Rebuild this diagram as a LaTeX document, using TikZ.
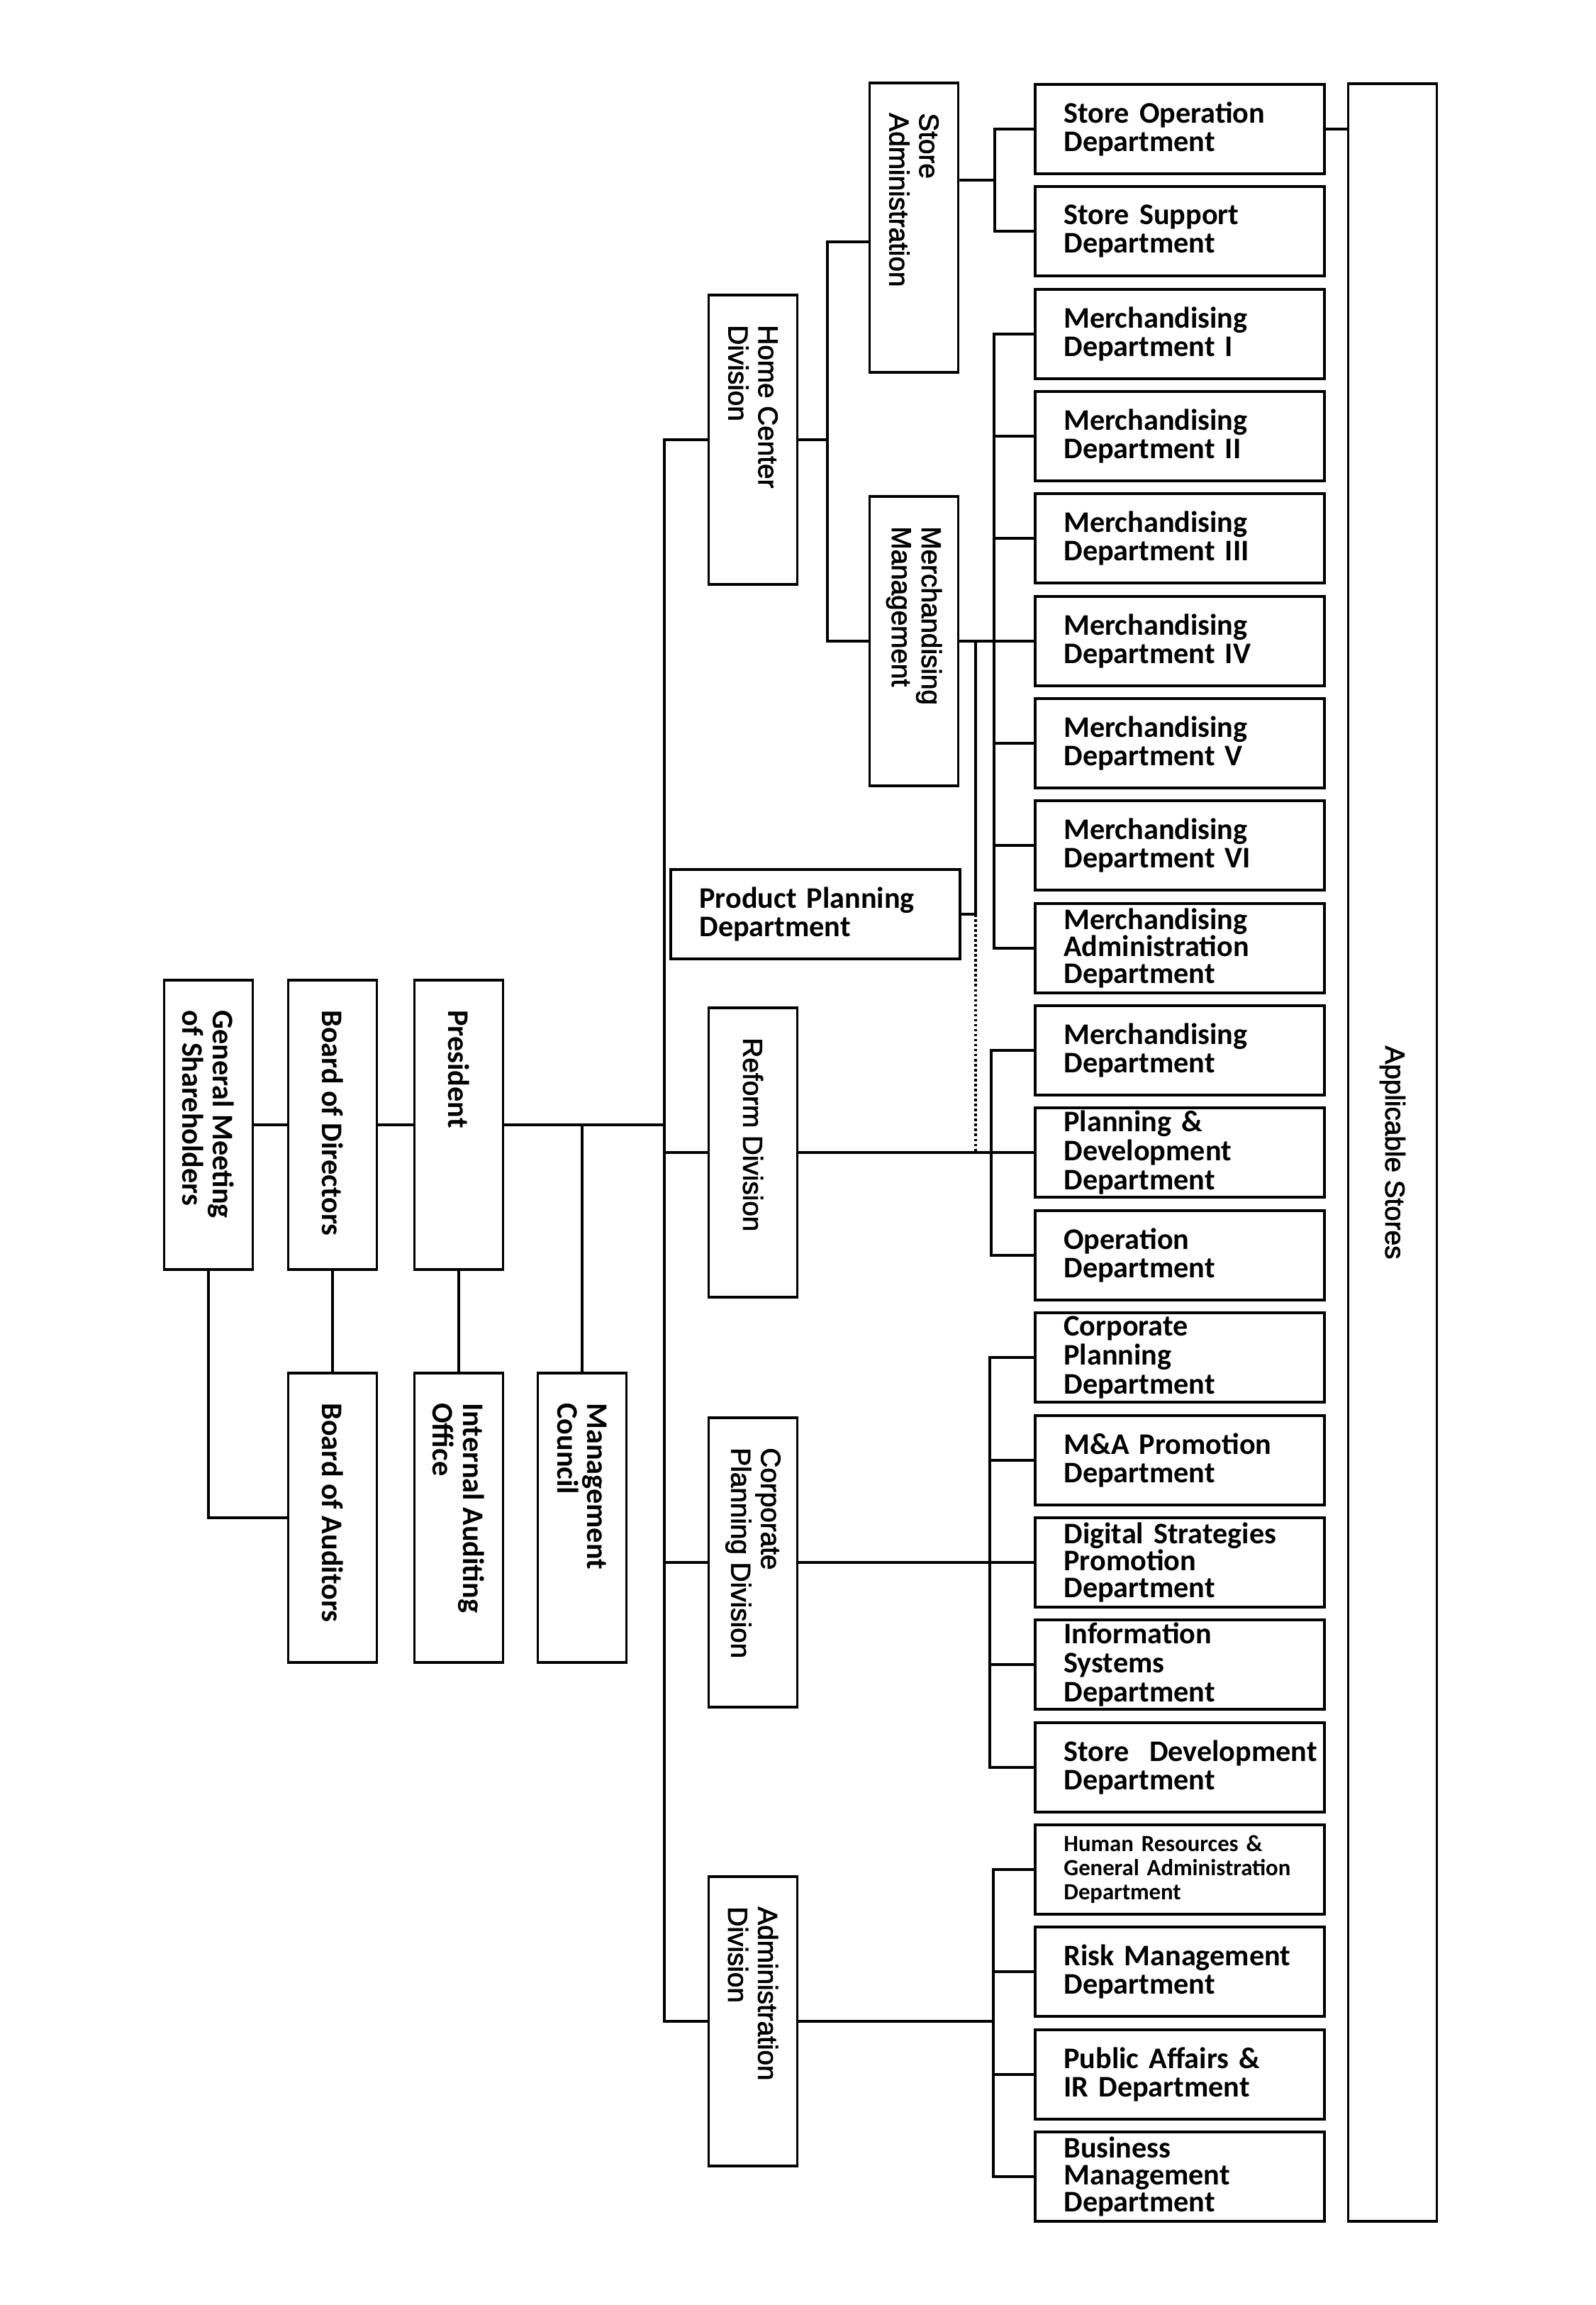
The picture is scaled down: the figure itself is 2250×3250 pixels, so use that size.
\documentclass[tikz,border=0pt]{standalone}
\usepackage{graphicx}
\usepackage{fontspec}
\usepackage{xcolor}
\newfontfamily\calfont{Carlito}
\newfontfamily\arfont{Liberation Sans}[FakeBold=2]
\newcommand{\vtxt}[1]{\rotatebox{-90}{\parbox{3.23cm}{\raggedright #1}}}

\begin{document}
\begin{tikzpicture}[x=0.01cm,y=-0.01cm,line width=1.1pt]
		\tikzset{box/.style = {draw,rectangle,inner sep=0pt}}
		\tikzset{dept/.style = {box,minimum width=4.07cm,minimum height=1.26cm,
			text width=3.27cm,inner xsep=0.4cm,align=left,
			font=\calfont\bfseries\fontsize{12pt}{11.6pt}\selectfont}}
		\tikzset{tight/.style = {font=\calfont\bfseries\fontsize{12pt}{10.8pt}\selectfont}}
		\tikzset{small/.style = {font=\calfont\bfseries\fontsize{9.3pt}{9.6pt}\selectfont}}
		\tikzset{vbox/.style = {box,minimum width=1.25cm,minimum height=4.07cm,
			font=\calfont\bfseries\fontsize{12pt}{12.2pt}\selectfont}}
		\tikzset{divbox/.style = {vbox,font=\arfont\fontsize{11pt}{12pt}\selectfont}}
		\tikzset{dotline/.style = {dash pattern=on 1pt off 1pt}}
		\useasboundingbox (0,0) rectangle (2250,3250);
		% top management
		\node[vbox] (gm) at (294,1586) {\vtxt{General Meeting\\of Shareholders}};
		\node[vbox] (bod) at (469,1586) {\vtxt{Board of Directors}};
		\node[vbox] (pres) at (647,1586) {\vtxt{President}};
		\node[vbox] (boa) at (469,2140) {\vtxt{Board of Auditors}};
		\node[vbox] (iao) at (647,2140) {\vtxt{Internal Auditing\\Office}};
		\node[vbox] (mc) at (821,2140) {\vtxt{Management\\Council}};
		\coordinate (trunk) at (937,1586);

		% divisions
		\node[divbox] (hc) at (1062,620) {\vtxt{Home Center\\Division}};
		\node[divbox] (sadm) at (1289,321) {\vtxt{Store\\Administration}};
		\node[divbox] (mm) at (1289,904) {\vtxt{Merchandising\\Management}};
		\node[divbox] (ref) at (1062,1625) {\vtxt{Reform Division}};
		\node[divbox] (cpd) at (1062,2203) {\vtxt{Corporate\\Planning Division}};
		\node[divbox] (adm) at (1062,2850) {\vtxt{Administration\\Division}};
		\node[dept] (pp) at (1150,1289) {Product Planning\\Department};

		% departments
		\node[dept] (sop) at (1664,182) {Store Operation\\Department};
		\node[dept] (ssup) at (1664,326) {Store Support\\Department};
		\node[dept] (md1) at (1664,471) {Merchandising\\Department I};
		\node[dept] (md2) at (1664,615) {Merchandising\\Department II};
		\node[dept] (md3) at (1664,759) {Merchandising\\Department III};
		\node[dept] (md4) at (1664,904) {Merchandising\\Department IV};
		\node[dept] (md5) at (1664,1048) {Merchandising\\Department V};
		\node[dept] (md6) at (1664,1192) {Merchandising\\Department VI};
		\node[dept,tight] (mda) at (1664,1337) {Merchandising\\Administration\\Department};
		\node[dept] (rmd) at (1664,1481) {Merchandising\\Department};
		\node[dept] (pd) at (1664,1625) {Planning \&\\Development\\Department};
		\node[dept] (rop) at (1664,1770) {Operation\\Department};
		\node[dept] (cpdep) at (1664,1914) {Corporate\\Planning\\Department};
		\node[dept] (mna) at (1664,2059) {M\&A Promotion\\Department};
		\node[dept,tight] (dsp) at (1664,2203) {Digital Strategies\\Promotion\\Department};
		\node[dept] (isd) at (1664,2347) {Information\\Systems\\Department};
		\node[dept] (sdev) at (1664,2492) {\mbox{Store~~Development}\\Department};
		\node[dept,small] (hr) at (1664,2636) {Human Resources \&\\General Administration\\Department};
		\node[dept] (risk) at (1664,2780) {Risk Management\\Department};
		\node[dept] (pub) at (1664,2925) {Public Affairs \&\\IR Department};
		\node[dept,tight] (bm) at (1664,3069) {Business\\Management\\Department};

		\node[box,minimum width=1.25cm,minimum height=30.13cm,
			font=\arfont\fontsize{11pt}{12pt}\selectfont] (stores) at (1964,1625) {\rotatebox{-90}{Applicable Stores}};

		\coordinate (hcbus) at (1167,620);
		\coordinate (sabus) at (1403,254);
		\coordinate (mbus) at (1402,904);
		\coordinate (ppbus) at (1376,904);
		\coordinate (rbus) at (1398,1625);
		\coordinate (cbus) at (1396,2203);
		\coordinate (abus) at (1401,2850);

		% edges
		\draw (gm) -- (bod);
		\draw (bod) -- (pres);
		\draw (pres) -- (trunk);
		\draw (bod) -- (boa);
		\draw (pres) -- (iao);
		\draw (gm.south) |- (boa);
		\draw (mc) -- (mc |- trunk);
		\draw (hc) -- (hc -| trunk) -- (adm -| trunk) -- (adm);
		\draw (ref) -- (ref -| trunk);
		\draw (cpd) -- (cpd -| trunk);

		\draw (hc) -- (hcbus);
		\draw ([yshift=-0.2cm]sadm.west) -| (hcbus) |- (mm);
		\draw ([yshift=0.67cm]sadm.east) -- (sabus);
		\draw (sop) -| (sabus) |- (ssup);
		\draw (sop) -- (sop -| stores.west);

		\draw (mm) -- (md4);
		\draw (md1) -| (mbus) |- (mda);
		\draw (md2) -- (md2 -| mbus);
		\draw (md3) -- (md3 -| mbus);
		\draw (md5) -- (md5 -| mbus);
		\draw (md6) -- (md6 -| mbus);
		\draw (pp) -| (ppbus);
		\draw[dotline] (pp -| ppbus) -- (ppbus |- ref);

		\draw (ref) -- (pd);
		\draw (rmd) -| (rbus) |- (rop);

		\draw (cpd) -- (dsp);
		\draw (cpdep) -| (cbus) |- (sdev);
		\draw (mna) -- (mna -| cbus);
		\draw (isd) -- (isd -| cbus);

		\draw (adm) -- (abus);
		\draw (hr) -| (abus) |- (bm);
		\draw (risk) -- (risk -| abus);
		\draw (pub) -- (pub -| abus);
\end{tikzpicture}
\end{document}
